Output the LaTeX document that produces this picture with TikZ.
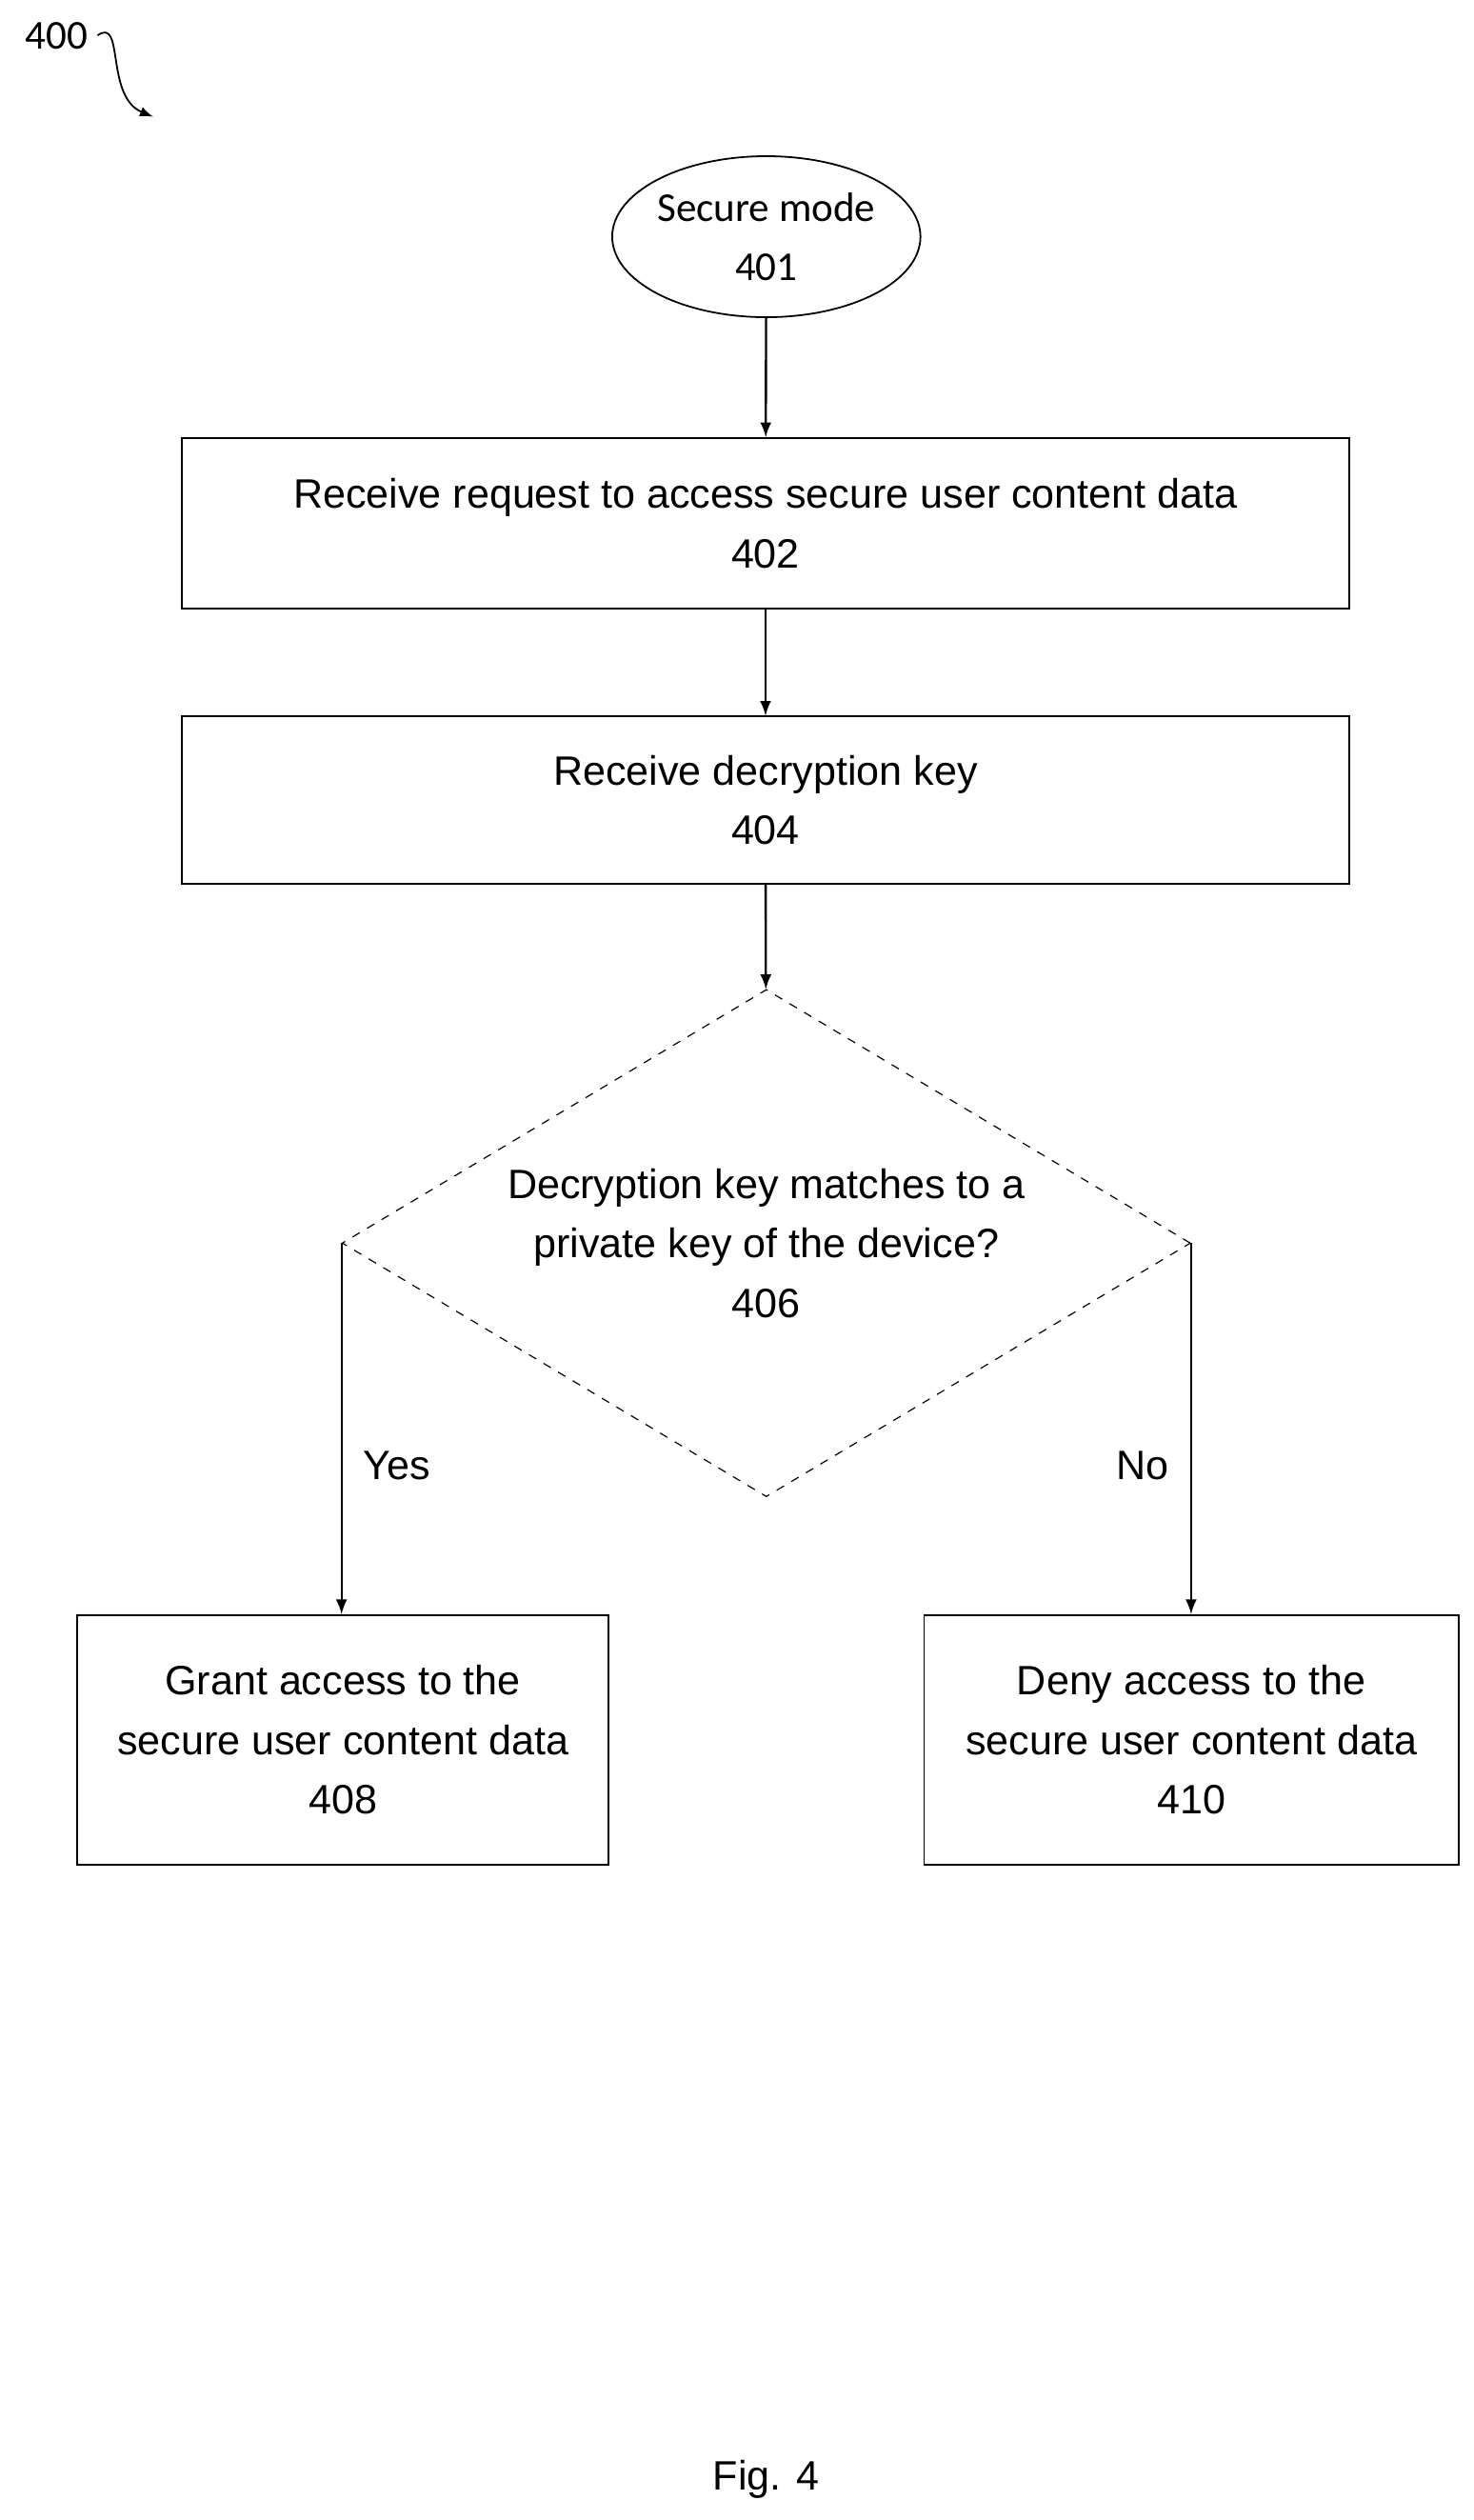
\documentclass[tikz,border=0pt]{standalone}
\usepackage{fontspec}
\setmainfont{Liberation Sans}
\newfontfamily\calib{Carlito}
\usetikzlibrary{shapes.geometric}
\tikzset{
  box/.style={draw, line width=0.6pt, align=center, inner sep=0pt},
  flow/.style={-latex, line width=0.8pt},
}
\begin{document}
\begin{tikzpicture}[font=\fontsize{14.5}{21}\selectfont]
    \useasboundingbox (0, 0) rectangle (18.3, -31.3);
    \node (fig) at (0.7, -0.44) {\calib 400};
    \coordinate (figtip) at (1.9, -1.45);
    \node[box, ellipse, minimum width=3.72cm, minimum height=2cm,
      font=\calib\fontsize{14.5}{21}\selectfont] (sec) at (9.52, -2.94)
      {Secure mode\\401};
    \node[box, minimum width=14.5cm, minimum height=2.12cm] (req) at (9.51, -6.5)
      {Receive request to access secure user content data\\402};
    \node[box, minimum width=14.5cm, minimum height=2.08cm] (key) at (9.51, -9.94)
      {Receive decryption key\\404};
    \node[box, diamond, dashed, line width=0.4pt, aspect=1.67,
      minimum width=10.54cm, minimum height=6.3cm] (dec) at (9.52, -15.44)
      {Decryption key matches to a\\private key of the device?\\406};
    \node[box, minimum width=6.6cm, minimum height=3.1cm] (grant) at (4.26, -21.61)
      {Grant access to the\\secure user content data\\408};
    \node[box, minimum width=6.64cm, minimum height=3.1cm] (deny) at (14.8, -21.61)
      {Deny access to the\\secure user content data\\410};
    \node (cap) at (9.52, -30.8) {Fig. 4};
    \draw[-latex, line width=0.6pt] (fig.east) .. controls (1.55, -0.2) and (1.3, -1.2) .. (figtip);
    \draw[flow] (sec) -- (req);
    \draw[flow] (req) -- (key);
    \draw[flow] (key) -- (dec);
    \draw[flow] (dec.west) -- node[right=4pt, pos=0.6] {Yes} (dec.west |- grant.north);
    \draw[flow] (dec.east) -- node[left=4pt, pos=0.6] {No} (dec.east |- deny.north);
  \end{tikzpicture}
\end{document}
